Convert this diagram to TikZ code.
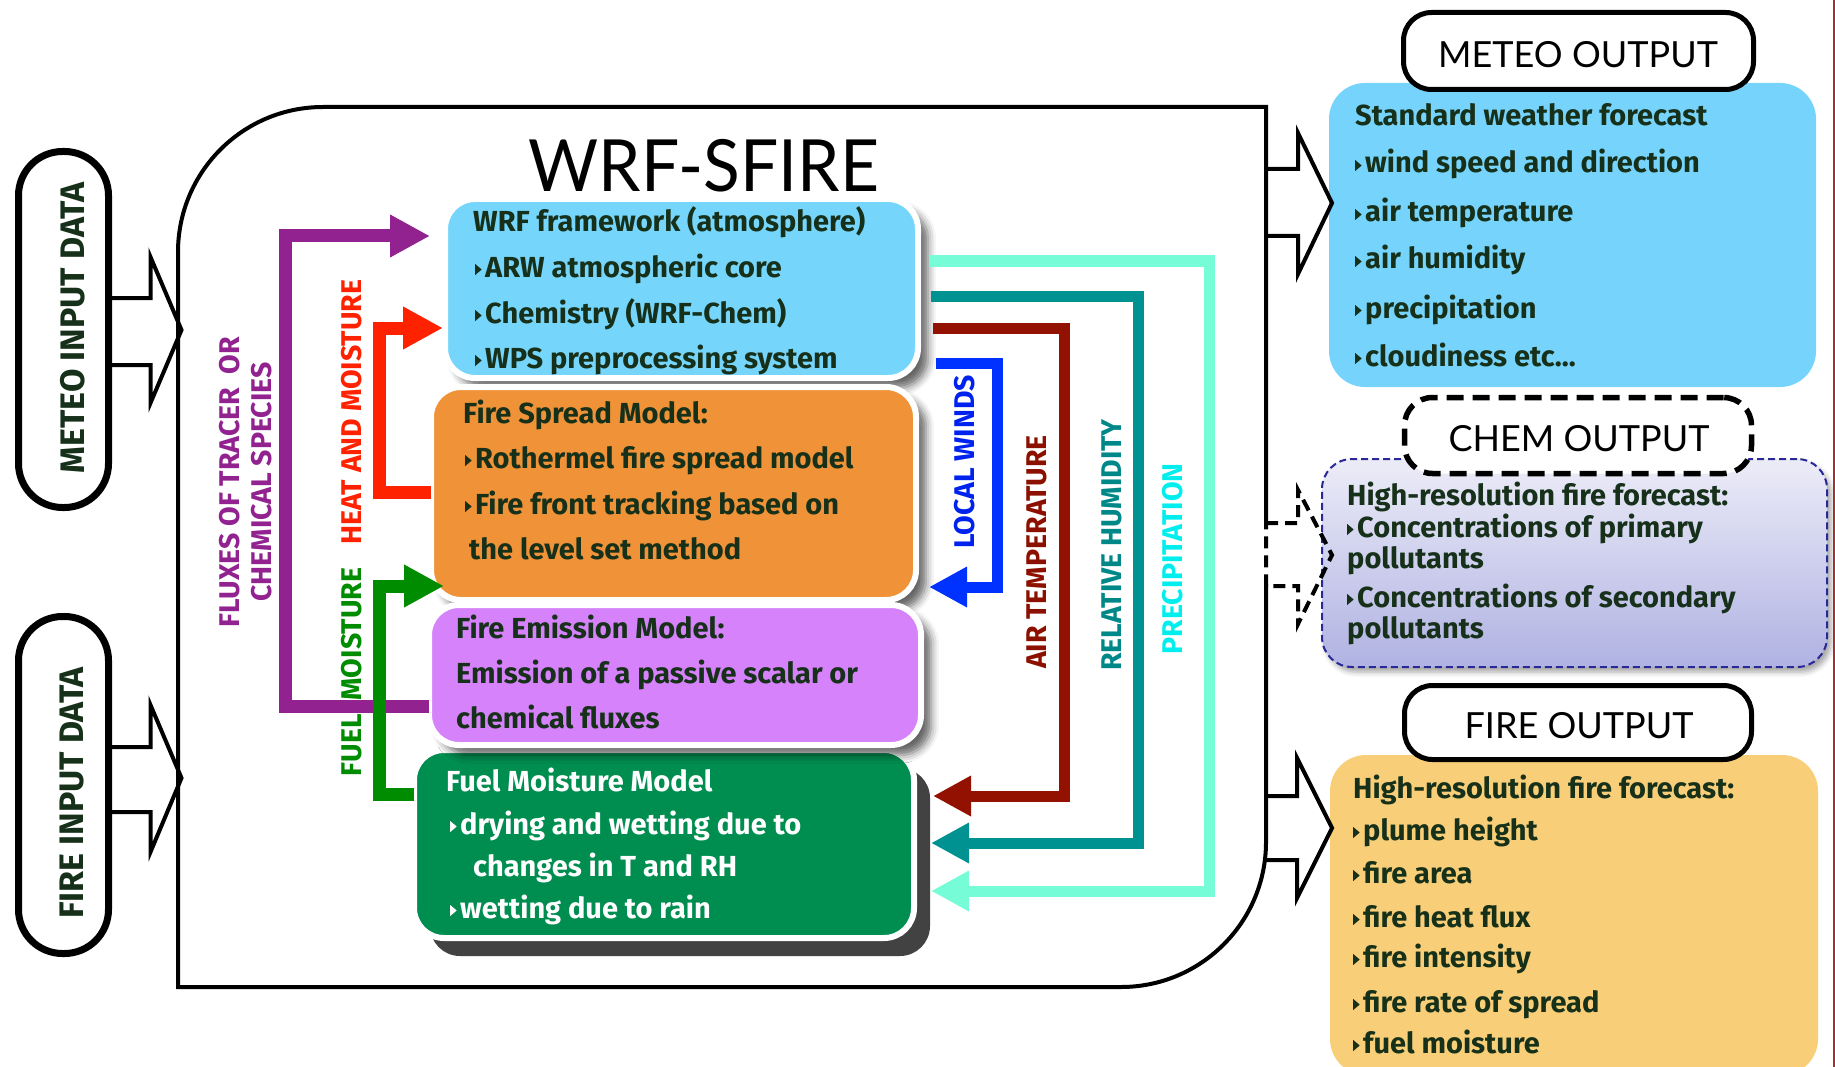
\documentclass[tikz,border=0pt]{standalone}
\usepackage{fontspec}
\usepackage{graphicx}
\setmainfont{Fira Sans}
\newfontfamily\latofont{Lato}
\usetikzlibrary{arrows.meta,shadows.blur,calc}
\definecolor{dk}{RGB}{22,48,26}
\definecolor{wrfblue}{RGB}{118,213,251}
\definecolor{fsmorange}{RGB}{240,146,55}
\definecolor{femviolet}{RGB}{214,130,250}
\definecolor{fmgreen}{RGB}{0,142,80}
\definecolor{outblue}{RGB}{118,212,252}
\definecolor{outfire}{RGB}{248,207,120}
\definecolor{chemtop}{RGB}{236,236,248}
\definecolor{chembot}{RGB}{176,178,226}
\definecolor{chemline}{RGB}{40,40,150}
\definecolor{cpurple}{RGB}{145,34,143}
\definecolor{cred}{RGB}{255,34,0}
\definecolor{cgreen}{RGB}{0,140,0}
\definecolor{cblue}{RGB}{0,50,255}
\definecolor{cdred}{RGB}{146,17,0}
\definecolor{cteal}{RGB}{0,145,145}
\definecolor{caqua}{RGB}{118,252,214}
\definecolor{lblue}{RGB}{0,34,238}
\definecolor{ldred}{RGB}{140,16,0}
\definecolor{lteal}{RGB}{0,136,136}
\definecolor{lcyan}{RGB}{0,238,238}
\definecolor{edgered}{RGB}{160,50,50}
\newcommand{\bl}{\tikz[x=1pt,y=1pt,baseline=-2pt]\fill (0,0)--(0,11)--(6.5,5.5)--cycle;\hspace{3.5pt}}
\begin{document}
\begin{tikzpicture}[x=1pt,y=-1pt,
  mbox/.style={rectangle, rounded corners=30pt, draw=white, line width=6pt, inner sep=0pt,
     blur shadow={shadow xshift=10pt, shadow yshift=-10pt, shadow blur radius=8pt, shadow opacity=60}},
  gbox/.style={rectangle, rounded corners=30pt, draw=white, line width=6pt, inner sep=0pt,
     drop shadow={shadow xshift=16pt, shadow yshift=-18pt, fill=black!74, opacity=1}},
  obox/.style={rectangle, rounded corners=36pt, inner sep=0pt},
  tx/.style={anchor=base west, inner sep=0pt, text=dk, font=\bfseries\fontsize{29}{34}\selectfont},
  vlab/.style={rotate=90, inner sep=0pt, font=\bfseries\fontsize{28.5}{32}\selectfont},
  flow/.style={line width=13pt, -{Triangle[length=40pt,width=40pt]}},
  back/.style={line width=11pt, -{Triangle[length=38pt,width=38pt]}},
  inbox/.style={draw, line width=7pt, rounded corners=44pt, inner sep=0pt},
  outlab/.style={draw, fill=white, line width=5pt, rounded corners=28pt, inner sep=0pt},
  outtxt/.style={inner sep=0pt, font=\latofont\fontsize{36}{40}\selectfont},
  bigarrow/.style={draw, line width=4pt, line join=miter},
]
\useasboundingbox (0,0) rectangle (1835,1067);
\clip (0,0) rectangle (1835,1067);

% main frame
\draw[line width=4pt] (178,987) -- (178,252) arc[start angle=180,end angle=270,radius=145]
  -- (1266,107) -- (1266,842) arc[start angle=0,end angle=90,radius=145] -- cycle;

% title
\node[anchor=base, inner sep=0pt, font=\latofont\fontsize{72}{80}\selectfont] (title) at (704,192) {\scalebox{0.94}[1]{WRF-SFIRE}};

% input boxes
\node[inbox, minimum width=90pt, minimum height=356pt] (mi) at (63.5,329.5) {};
\node[inbox, minimum width=90pt, minimum height=337pt] (fi) at (63.5,785) {};
\node[rotate=90, inner sep=0pt, text=dk, font=\bfseries\fontsize{34}{38}\selectfont] (lmi) at (72.5,328) {METEO INPUT DATA};
\node[rotate=90, inner sep=0pt, text=dk, font=\bfseries\fontsize{34}{38}\selectfont] (lfi) at (72.5,793) {FIRE INPUT DATA};
\draw[bigarrow] ($(mi.east)+(0,-31.5)$) -- ++(38.5,0) -- ++(0,-41) -- ++(31,73) -- ++(-31,73) -- ++(0,-38) -- ++(-38.5,0);
\draw[bigarrow] ($(fi.east)+(0,-38)$) -- ++(38.5,0) -- ++(0,-42) -- ++(31,73) -- ++(-31,74) -- ++(0,-40) -- ++(-38.5,0);

% model boxes
\node[mbox, fill=wrfblue, minimum width=473pt, minimum height=179pt] (wrf) at (681.5,288.5) {};
\node[mbox, fill=fsmorange, minimum width=485pt, minimum height=213pt] (fsm) at (673.5,493.5) {};
\node[gbox, fill=fmgreen, minimum width=500pt, minimum height=188pt] (gfm) at (664,844) {};
\node[mbox, fill=femviolet, minimum width=492pt, minimum height=140pt] (fem) at (675,675) {};

% connectors (left)
\coordinate (pu1) at (285,706); \coordinate (pu2) at (285,236);
\draw[flow, cpurple] ($(fem.west |- pu1)+(3,0)$) -- (pu1) -- (pu2) -- ($(wrf.west |- pu2)+(-12,0)$);
\coordinate (re1) at (379,492); \coordinate (re2) at (379,328);
\draw[flow, cred] ($(fsm.west |- re1)+(3,0)$) -- (re1) -- (re2) -- ($(wrf.west |- re2)+(1,0)$);
\coordinate (gr1) at (379,794); \coordinate (gr2) at (379,586);
\draw[flow, cgreen] ($(gfm.west |- gr1)+(3,0)$) -- (gr1) -- (gr2) -- ($(fsm.west |- gr2)+(16,0)$);
% connectors (right)
\coordinate (wi1) at (997,363); \coordinate (wi2) at (997,587);
\draw[back, cblue] ($(wrf.east |- wi1)+(15,0)$) -- (wi1) -- (wi2) -- ($(fsm.east |- wi2)+(10,0)$);
\coordinate (at1) at (1064,328); \coordinate (at2) at (1064,796);
\draw[back, cdred] ($(wrf.east |- at1)+(12,0)$) -- (at1) -- (at2) -- ($(gfm.east |- at2)+(16,0)$);
\coordinate (rh1) at (1138,296); \coordinate (rh2) at (1138,843);
\draw[back, cteal] ($(wrf.east |- rh1)+(10,0)$) -- (rh1) -- (rh2) -- ($(gfm.east |- rh2)+(14,0)$);
\coordinate (pr1) at (1209,261); \coordinate (pr2) at (1209,891);
\draw[back, caqua] ($(wrf.east |- pr1)+(9,0)$) -- (pr1) -- (pr2) -- ($(gfm.east |- pr2)+(14,0)$);

% box texts
\node[tx] (w1) at (473,232) {WRF framework (atmosphere)};
\node[tx] (w2) at (475,277) {\bl ARW atmospheric core};
\node[tx] (w3) at (475,323) {\bl Chemistry (WRF-Chem)};
\node[tx] (w4) at (475,368) {\bl WPS preprocessing system};
\node[tx] (s1) at (463,423) {Fire Spread Model:};
\node[tx] (s2) at (465,468) {\bl Rothermel fire spread model};
\node[tx] (s3) at (465,514) {\bl Fire front tracking based on};
\node[tx] (s4) at (469,559) {the level set method};
\node[tx] (e1) at (456,638) {Fire Emission Model:};
\node[tx] (e2) at (456,683) {Emission of a passive scalar or};
\node[tx] (e3) at (456,728) {chemical fluxes};
\node[tx, text=white] (f1) at (446,791) {Fuel Moisture Model};
\node[tx, text=white] (f2) at (450,834) {\bl drying and wetting due to};
\node[tx, text=white] (f3) at (473,876) {changes in T and RH};
\node[tx, text=white] (f4) at (450,918) {\bl wetting due to rain};

% connector labels
\node[vlab, text=cpurple, align=center] (lflux) at (246,482) {FLUXES OF TRACER\ \ OR\\CHEMICAL SPECIES};
\node[vlab, text=cred] (lheat) at (352,412) {HEAT AND MOISTURE};
\node[vlab, text=cgreen] (lfuel) at (352,672) {FUEL\hspace{14pt}MOISTURE};
\node[vlab, text=lblue] (lwind) at (965,462) {LOCAL WINDS};
\node[vlab, text=ldred] (ltemp) at (1037,552) {AIR TEMPERATURE};
\node[vlab, text=lteal] (lrh) at (1112,545) {RELATIVE HUMIDITY};
\node[vlab, text=lcyan] (lprec) at (1173,559) {PRECIPITATION};

% output boxes
\node[obox, fill=outblue, minimum width=487pt, minimum height=304pt] (mout) at (1572.5,235) {};
\node[obox, rounded corners=30pt, top color=chemtop, bottom color=chembot, draw=chemline,
      dash pattern=on 7pt off 4pt, line width=2pt, minimum width=505pt, minimum height=208pt,
      blur shadow={shadow xshift=4pt, shadow yshift=-5pt, shadow blur radius=5pt, shadow opacity=35}] (cout) at (1574.5,563) {};
\node[obox, fill=outfire, minimum width=488pt, minimum height=320pt] (fout) at (1574,915) {};

\node[outlab, minimum width=350pt, minimum height=77pt] (moutl) at (1578.5,51) {};
\node[outtxt] (moutt) at (1578,55) {METEO OUTPUT};
\node[outlab, dash pattern=on 17pt off 9pt, line width=5.5pt, minimum width=347pt, minimum height=76pt] (coutl) at (1578,435.5) {};
\node[outtxt] (coutt) at (1579,439) {CHEM OUTPUT};
\node[outlab, minimum width=347pt, minimum height=74pt] (foutl) at (1578,722.5) {};
\node[outtxt] (foutt) at (1579,726) {FIRE OUTPUT};

% output texts
\node[tx] (m1) at (1355,126) {Standard weather forecast};
\node[tx] (m2) at (1355,173) {\bl wind speed and direction};
\node[tx] (m3) at (1355,222) {\bl air temperature};
\node[tx] (m4) at (1355,269) {\bl air humidity};
\node[tx] (m5) at (1355,318) {\bl precipitation};
\node[tx] (m6) at (1355,366) {\bl cloudiness etc...};
\node[tx] (c1) at (1347,505) {High-resolution fire forecast:};
\node[tx] (c2) at (1347,537) {\bl Concentrations of primary};
\node[tx] (c3) at (1347,568) {pollutants};
\node[tx] (c4) at (1347,607) {\bl Concentrations of secondary};
\node[tx] (c5) at (1347,638) {pollutants};
\node[tx] (o1) at (1353,798) {High-resolution fire forecast:};
\node[tx] (o2) at (1353,840) {\bl plume height};
\node[tx] (o3) at (1353,883) {\bl fire area};
\node[tx] (o4) at (1353,927) {\bl fire heat flux};
\node[tx] (o5) at (1353,967) {\bl fire intensity};
\node[tx] (o6) at (1353,1012) {\bl fire rate of spread};
\node[tx] (o7) at (1353,1053) {\bl fuel moisture};

% output arrows
\draw[bigarrow] (1266,169) -- (1298,169) -- (1298,133) -- (1332,203) -- (1298,274) -- (1298,236) -- (1266,236);
\fill[white] (1261,525) rectangle (1271,584);
\draw[bigarrow, dash pattern=on 12pt off 7pt] (1266,523) -- (1298,523) -- (1298,490) -- (1332,555) -- (1298,624) -- (1298,586) -- (1266,586) -- cycle;
\draw[bigarrow] (1266,796) -- (1297,796) -- (1297,758) -- (1332,828) -- (1297,898) -- (1297,860) -- (1266,860);

% right edge line
\draw[edgered, line width=2.5pt] (1834,0) -- (1834,1067);
\end{tikzpicture}
\end{document}
